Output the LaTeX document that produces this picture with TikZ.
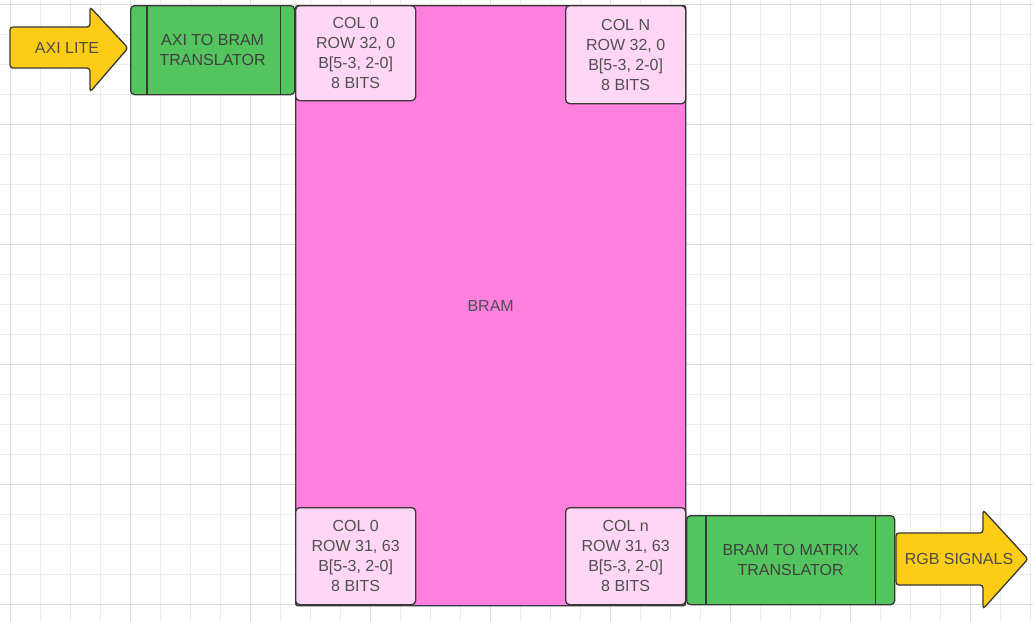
\documentclass[tikz,border=0pt]{standalone}
\usepackage{fontspec}
\setmainfont{Liberation Sans}
\definecolor{gridminor}{HTML}{EDEDED}
\definecolor{gridmajor}{HTML}{DCDCDC}
\definecolor{bramfill}{HTML}{FF80DF}
\definecolor{cellfill}{HTML}{FFD6F5}
\definecolor{greenfill}{HTML}{54C45E}
\definecolor{yellowfill}{HTML}{FCCD14}
\definecolor{strokec}{HTML}{383838}
\definecolor{textc}{HTML}{505050}
\begin{document}
\begin{tikzpicture}[x=1pt,y=-1pt,
  font=\fontsize{16}{20}\selectfont,
  box/.style={draw=strokec, line width=1.3pt, rounded corners=4pt, inner sep=0pt, align=center, text=textc},
  bramstyle/.style={box, fill=bramfill, rounded corners=2pt},
  cell/.style={box, fill=cellfill, minimum width=120pt},
  trans/.style={box, fill=greenfill, text=black!75},
  divider/.style={draw=strokec, line width=1.3pt},
  arrowshape/.style={draw=strokec, line width=1.3pt, fill=yellowfill, rounded corners=3pt},
  label/.style={inner sep=0pt, align=center, text=black!70}]
\useasboundingbox (0,0) rectangle (1033,622);
\fill[white] (0,0) rectangle (1033,622);
% grid
\foreach \x in {10,40,...,1030} \draw[gridminor, line width=0.9pt] (\x,0) -- (\x,622);
\foreach \y in {4,34,...,620} \draw[gridminor, line width=0.9pt] (0,\y) -- (1033,\y);
\foreach \x in {10,130,...,1030} \draw[gridmajor, line width=0.9pt] (\x,0) -- (\x,622);
\foreach \y in {4,124,...,620} \draw[gridmajor, line width=0.9pt] (0,\y) -- (1033,\y);
% BRAM
\node[bramstyle, minimum width=390pt, minimum height=600pt, anchor=north west] (bram) at (295,5) {BRAM};
\node[cell, minimum height=95pt, anchor=north west] (tl) at (295,5) {COL 0\\ROW 32, 0\\B[5-3, 2-0]\\8 BITS};
\node[cell, minimum height=98pt, anchor=north west] (tr) at (565,5) {COL N\\ROW 32, 0\\B[5-3, 2-0]\\8 BITS};
\node[cell, minimum height=97pt, anchor=north west] (bl) at (295,507) {COL 0\\ROW 31, 63\\B[5-3, 2-0]\\8 BITS};
\node[cell, minimum height=97pt, anchor=north west] (br) at (565,507) {COL n\\ROW 31, 63\\B[5-3, 2-0]\\8 BITS};
% translators
\node[trans, minimum width=164pt, minimum height=89pt, anchor=north west] (axi2bram) at (130,5) {AXI TO BRAM\\TRANSLATOR};
\draw[divider] ([xshift=17pt]axi2bram.north west) -- ([xshift=17pt]axi2bram.south west);
\draw[divider] ([xshift=-15pt]axi2bram.north east) -- ([xshift=-15pt]axi2bram.south east);
\node[trans, minimum width=208pt, minimum height=89pt, anchor=north west] (bram2mat) at (686,515) {BRAM TO MATRIX\\TRANSLATOR};
\draw[divider] ([xshift=20pt]bram2mat.north west) -- ([xshift=20pt]bram2mat.south west);
\draw[divider] ([xshift=-20pt]bram2mat.north east) -- ([xshift=-20pt]bram2mat.south east);
% arrows
\draw[arrowshape] (10,27) -- (90,27) -- (90,7) -- (128,48) -- (90,92) -- (90,68) -- (10,68) -- cycle;
\node[label] (axilite) at (67,48) {AXI LITE};
\draw[arrowshape] (896,533) -- (983,533) -- (983,510) -- (1028,559) -- (983,609) -- (983,585) -- (896,585) -- cycle;
\node[label] (rgb) at (959,559) {RGB SIGNALS};
\end{tikzpicture}
\end{document}
